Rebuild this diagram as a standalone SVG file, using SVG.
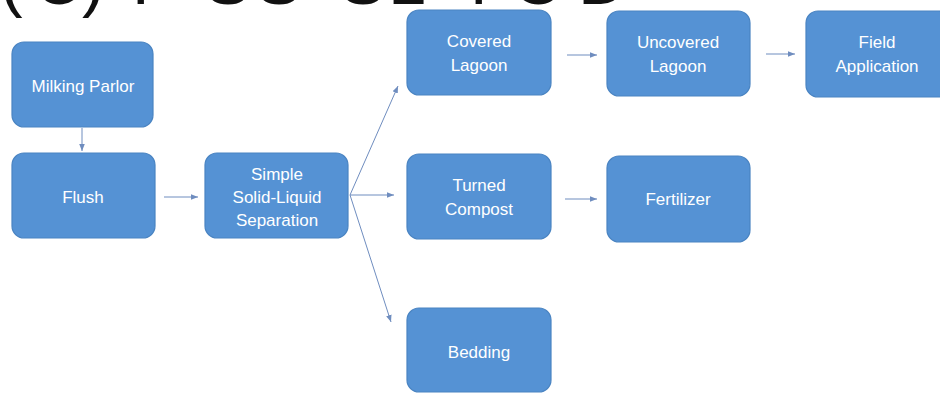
<svg xmlns="http://www.w3.org/2000/svg" width="940" height="393" viewBox="0 0 940 393">
<style>
.box{fill:#5592d4;stroke:#4a84c2;stroke-width:1.2}
.lbl{font-family:"Liberation Sans",Arial,sans-serif;font-size:17px;fill:#ffffff;text-anchor:middle}
.con{stroke:#6f8dbf;stroke-width:1;fill:none}
.title{font-family:"Liberation Sans",Arial,sans-serif;font-size:68px;fill:#111111}
</style>
<defs>
<marker id="ah" viewBox="0 0 10 10" refX="10" refY="5" markerWidth="7" markerHeight="7" orient="auto" markerUnits="userSpaceOnUse">
<path d="M0,1 L10,5 L0,9 z" fill="#6f8dbf"/>
</marker>
</defs>
<rect width="940" height="393" fill="#ffffff"/>
<text class="title" y="4"><tspan x="0">(</tspan><tspan x="33">C</tspan><tspan x="82">)</tspan><tspan x="132">F</tspan><tspan x="205">S</tspan><tspan x="256">S</tspan><tspan x="340">S</tspan><tspan x="388">L</tspan><tspan x="458">T</tspan><tspan x="512">O</tspan><tspan x="578">D</tspan></text>
<g id="connectors">
<line class="con" x1="82" y1="128" x2="82" y2="151" marker-end="url(#ah)"/>
<line class="con" x1="164" y1="197" x2="198" y2="197" marker-end="url(#ah)"/>
<line class="con" x1="350" y1="195" x2="398" y2="86" marker-end="url(#ah)"/>
<line class="con" x1="350" y1="195" x2="394" y2="195" marker-end="url(#ah)"/>
<line class="con" x1="350" y1="195" x2="391" y2="322" marker-end="url(#ah)"/>
<line class="con" x1="567" y1="55" x2="597" y2="55" marker-end="url(#ah)"/>
<line class="con" x1="766" y1="54" x2="795" y2="54" marker-end="url(#ah)"/>
<line class="con" x1="565" y1="199" x2="597" y2="199" marker-end="url(#ah)"/>
</g>
<g id="milking-parlor"><rect class="box" x="12" y="42" width="141" height="85" rx="12"/><text class="lbl" x="83" y="92">Milking Parlor</text></g>
<g id="flush"><rect class="box" x="12" y="153" width="143" height="85" rx="12"/><text class="lbl" x="83" y="203">Flush</text></g>
<g id="separation"><rect class="box" x="205" y="153" width="143" height="85" rx="12"/><text class="lbl" x="277" y="180">Simple</text><text class="lbl" x="277" y="203">Solid-Liquid</text><text class="lbl" x="277" y="226">Separation</text></g>
<g id="covered-lagoon"><rect class="box" x="407" y="10" width="144" height="85" rx="12"/><text class="lbl" x="479" y="47">Covered</text><text class="lbl" x="479" y="71">Lagoon</text></g>
<g id="uncovered-lagoon"><rect class="box" x="607" y="11" width="143" height="85" rx="12"/><text class="lbl" x="678" y="48">Uncovered</text><text class="lbl" x="678" y="72">Lagoon</text></g>
<g id="field-application"><rect class="box" x="806" y="11" width="145" height="86" rx="12"/><text class="lbl" x="877" y="48">Field</text><text class="lbl" x="877" y="72">Application</text></g>
<g id="turned-compost"><rect class="box" x="407" y="154" width="144" height="85" rx="12"/><text class="lbl" x="479" y="191">Turned</text><text class="lbl" x="479" y="215">Compost</text></g>
<g id="fertilizer"><rect class="box" x="607" y="156" width="143" height="86" rx="12"/><text class="lbl" x="678" y="205">Fertilizer</text></g>
<g id="bedding"><rect class="box" x="407" y="308" width="144" height="84" rx="12"/><text class="lbl" x="479" y="358">Bedding</text></g>
</svg>
